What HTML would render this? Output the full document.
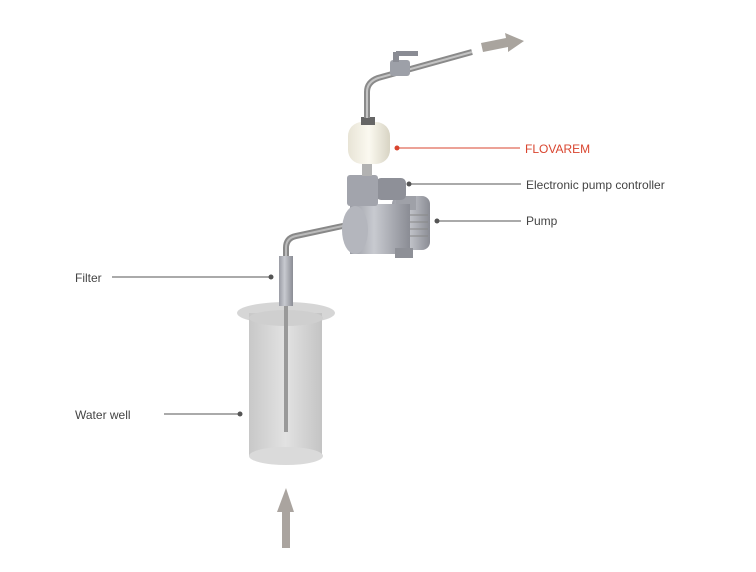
<!DOCTYPE html>
<html><head><meta charset="utf-8"><style>
html,body{margin:0;padding:0;background:#fff;}
svg{display:block;}
text{font-family:"Liberation Sans",sans-serif;font-size:12px;fill:#444;}
</style></head><body>
<svg width="756" height="572" viewBox="0 0 756 572" xmlns="http://www.w3.org/2000/svg">
<defs>
<linearGradient id="pipe" x1="0" x2="1"><stop offset="0" stop-color="#888"/><stop offset=".5" stop-color="#ccc"/><stop offset="1" stop-color="#777"/></linearGradient>
<linearGradient id="well" x1="0" x2="1"><stop offset="0" stop-color="#c8c8c8"/><stop offset=".5" stop-color="#e2e2e2"/><stop offset="1" stop-color="#c4c4c4"/></linearGradient>
<linearGradient id="metal" x1="0" x2="1"><stop offset="0" stop-color="#9a9ca4"/><stop offset=".4" stop-color="#c8cad0"/><stop offset="1" stop-color="#8a8c94"/></linearGradient>
<linearGradient id="tank" x1="0" x2="1"><stop offset="0" stop-color="#e8e4d6"/><stop offset=".5" stop-color="#fbf9f0"/><stop offset="1" stop-color="#d8d4c4"/></linearGradient>
</defs>
<!-- well -->
<ellipse cx="286" cy="313" rx="49" ry="11" fill="#d6d6d6"/>
<rect x="249" y="313" width="73" height="143" fill="url(#well)"/>
<ellipse cx="286" cy="456" rx="37" ry="9" fill="#dadada"/>
<ellipse cx="286" cy="318" rx="37" ry="8" fill="#cfcfcf"/>
<rect x="284" y="300" width="4" height="132" fill="#999"/>
<!-- filter + pipe -->
<path d="M286 258 L286 248 Q286 238 296 236 L352 224" stroke="#888" stroke-width="6" fill="none"/>
<path d="M286 258 L286 248 Q286 238 296 236 L352 224" stroke="#bbb" stroke-width="2" fill="none"/>
<rect x="279" y="256" width="14" height="50" fill="url(#metal)"/>
<!-- pump motor -->
<rect x="392" y="196" width="38" height="54" rx="8" fill="url(#metal)"/>
<g stroke="#888" stroke-width="1"><line x1="400" y1="215" x2="428" y2="215"/><line x1="400" y1="222" x2="428" y2="222"/><line x1="400" y1="229" x2="428" y2="229"/><line x1="400" y1="236" x2="428" y2="236"/></g>
<rect x="396" y="196" width="20" height="14" fill="#9fa1a8"/>
<rect x="350" y="204" width="60" height="50" fill="url(#metal)"/>
<ellipse cx="355" cy="230" rx="13" ry="24" fill="#b4b6bd"/>
<rect x="395" y="248" width="18" height="10" fill="#8e9097"/>
<!-- controller -->
<rect x="376" y="178" width="30" height="22" rx="5" fill="#8e9098"/>
<rect x="347" y="175" width="31" height="31" rx="3" fill="#a2a4ac"/>
<rect x="362" y="160" width="10" height="16" fill="#b2b2b2"/>
<!-- tank -->
<rect x="348" y="122" width="42" height="42" rx="14" fill="url(#tank)"/>
<rect x="361" y="117" width="14" height="8" fill="#666"/>
<!-- top pipe -->
<path d="M367 118 L367 92 Q367 82 378 78 L472 52" stroke="#8a8a8a" stroke-width="6" fill="none"/>
<path d="M367 118 L367 92 Q367 82 378 78 L472 52" stroke="#c4c4c4" stroke-width="2" fill="none"/>
<rect x="390" y="60" width="20" height="16" rx="3" fill="#9da0a8"/>
<rect x="393" y="52" width="6" height="10" fill="#8a8c94"/>
<rect x="396" y="51" width="22" height="5" fill="#8a8c94"/>
<!-- out arrow -->
<polygon points="481,43 506,38 505,33 524,41 508,52 508,47 483,52" fill="#a9a49e"/>
<!-- in arrow -->
<polygon points="282,548 282,512 277,512 286,488 294,512 290,512 290,548" fill="#aaa49f"/>
<!-- callouts -->
<line x1="397" y1="148" x2="520" y2="148" stroke="#d9452f" stroke-width="1"/><circle cx="397" cy="148" r="2.5" fill="#d9452f"/>
<text x="525" y="153" style="fill:#d9452f">FLOVAREM</text>
<line x1="409" y1="184" x2="521" y2="184" stroke="#555"/><circle cx="409" cy="184" r="2.5" fill="#555"/>
<text x="526" y="189">Electronic pump controller</text>
<line x1="437" y1="221" x2="521" y2="221" stroke="#555"/><circle cx="437" cy="221" r="2.5" fill="#555"/>
<text x="526" y="225">Pump</text>
<line x1="112" y1="277" x2="271" y2="277" stroke="#555"/><circle cx="271" cy="277" r="2.5" fill="#555"/>
<text x="75" y="282">Filter</text>
<line x1="164" y1="414" x2="240" y2="414" stroke="#555"/><circle cx="240" cy="414" r="2.5" fill="#555"/>
<text x="75" y="419">Water well</text>
</svg>
</body></html>
